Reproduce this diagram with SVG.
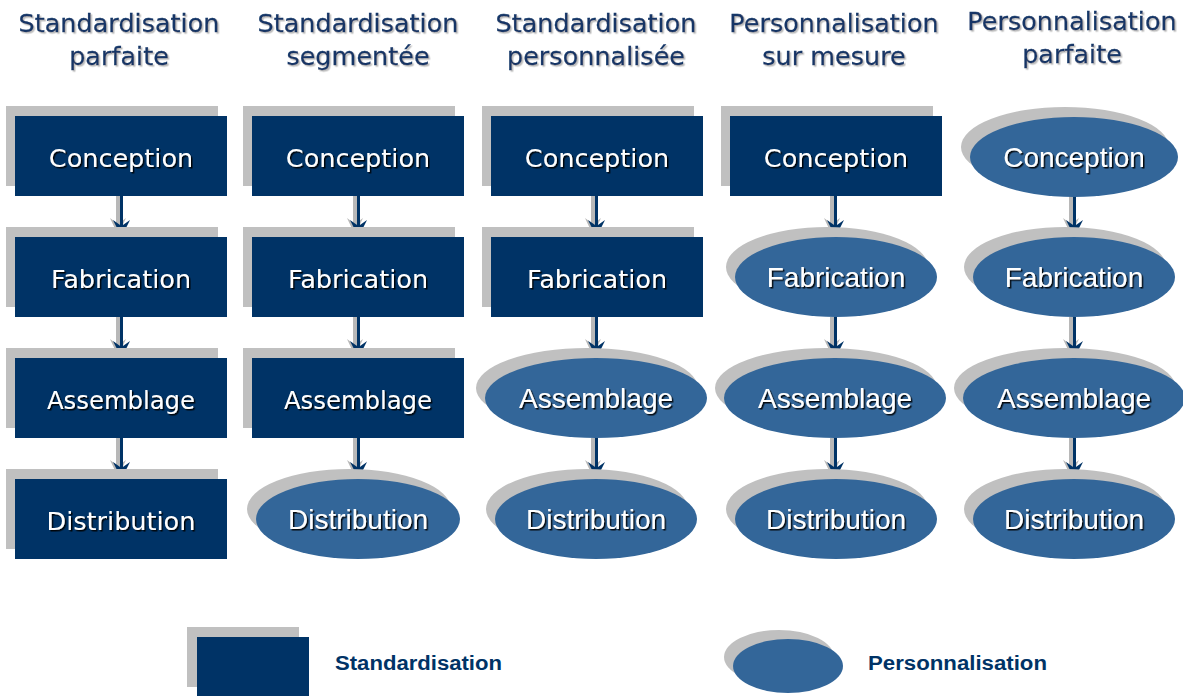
<svg xmlns="http://www.w3.org/2000/svg" xmlns:xlink="http://www.w3.org/1999/xlink" width="1183" height="696" viewBox="0 0 1183 696">
<defs>
<filter id="ts" x="-10%" y="-30%" width="120%" height="160%">
<feDropShadow dx="1.5" dy="1.5" stdDeviation="0.5" flood-color="#000" flood-opacity="0.9"/>
</filter>
<filter id="tts" x="-10%" y="-30%" width="120%" height="160%">
<feDropShadow dx="1.5" dy="1.5" stdDeviation="0.6" flood-color="#b4b4b4" flood-opacity="0.9"/>
</filter>
<g id="arr">
<line x1="-3" y1="0" x2="-3" y2="36" stroke="#b8b8b8" stroke-width="4"/>
<path d="M-3,39 L-11,22 L-3,28 L5,22 Z" fill="#b8b8b8"/>
<line x1="0.5" y1="0" x2="0.5" y2="32" stroke="#003366" stroke-width="3"/>
<path d="M0.5,41 L-8,24 L0.5,30 L9,24 Z" fill="#003366"/>
</g>
</defs>
<style>
.sh{fill:#c0c0c0}
.rb{fill:#003366}
.el{fill:#336699}
.rt{font-family:"DejaVu Sans",sans-serif;font-size:25.5px;fill:#fff;text-anchor:middle;filter:url(#ts)}
.et{font-family:"Liberation Sans",Arial,sans-serif;font-size:28px;fill:#fff;text-anchor:middle;filter:url(#ts)}
.tt{font-family:"DejaVu Sans",sans-serif;font-size:25.5px;fill:#133566;stroke:#133566;stroke-width:0.3;text-anchor:middle;filter:url(#tts)}
.lg{font-family:"Liberation Sans",Arial,sans-serif;font-size:20px;font-weight:bold;fill:#003366}
</style>
<rect width="1183" height="696" fill="#fff"/>

<g id="titles">
<text class="tt" x="119" y="32">Standardisation</text>
<text class="tt" x="119" y="65">parfaite</text>
<text class="tt" x="358" y="32">Standardisation</text>
<text class="tt" x="358" y="65">segmentée</text>
<text class="tt" x="596" y="32">Standardisation</text>
<text class="tt" x="596" y="65">personnalisée</text>
<text class="tt" x="834" y="32">Personnalisation</text>
<text class="tt" x="834" y="65">sur mesure</text>
<text class="tt" x="1072" y="30">Personnalisation</text>
<text class="tt" x="1072" y="63">parfaite</text>
</g>

<g id="connectors">
<use xlink:href="#arr" x="121" y="196"/>
<use xlink:href="#arr" x="121" y="317"/>
<use xlink:href="#arr" x="121" y="438"/>
<use xlink:href="#arr" x="358" y="196"/>
<use xlink:href="#arr" x="358" y="317"/>
<use xlink:href="#arr" x="358" y="438"/>
<use xlink:href="#arr" x="596" y="196"/>
<use xlink:href="#arr" x="596" y="317"/>
<use xlink:href="#arr" x="596" y="438"/>
<use xlink:href="#arr" x="835" y="196"/>
<use xlink:href="#arr" x="835" y="317"/>
<use xlink:href="#arr" x="835" y="438"/>
<use xlink:href="#arr" x="1074" y="196"/>
<use xlink:href="#arr" x="1074" y="317"/>
<use xlink:href="#arr" x="1074" y="438"/>
</g>

<!-- Column 1 -->
<g id="c1-conception"><rect class="sh" x="6" y="106" width="212" height="80"/><rect class="rb" x="15" y="116" width="212" height="80"/><text class="rt" x="121" y="167">Conception</text></g>
<g id="c1-fabrication"><rect class="sh" x="6" y="227" width="212" height="80"/><rect class="rb" x="15" y="237" width="212" height="80"/><text class="rt" x="121" y="288">Fabrication</text></g>
<g id="c1-assemblage"><rect class="sh" x="6" y="348" width="212" height="80"/><rect class="rb" x="15" y="358" width="212" height="80"/><text class="rt" x="121" y="409" textLength="148" lengthAdjust="spacingAndGlyphs">Assemblage</text></g>
<g id="c1-distribution"><rect class="sh" x="6" y="469" width="212" height="80"/><rect class="rb" x="15" y="479" width="212" height="80"/><text class="rt" x="121" y="530">Distribution</text></g>

<!-- Column 2 -->
<g id="c2-conception"><rect class="sh" x="243" y="106" width="212" height="80"/><rect class="rb" x="252" y="116" width="212" height="80"/><text class="rt" x="358" y="167">Conception</text></g>
<g id="c2-fabrication"><rect class="sh" x="243" y="227" width="212" height="80"/><rect class="rb" x="252" y="237" width="212" height="80"/><text class="rt" x="358" y="288">Fabrication</text></g>
<g id="c2-assemblage"><rect class="sh" x="243" y="348" width="212" height="80"/><rect class="rb" x="252" y="358" width="212" height="80"/><text class="rt" x="358" y="409" textLength="148" lengthAdjust="spacingAndGlyphs">Assemblage</text></g>
<g id="c2-distribution"><ellipse class="sh" cx="349" cy="509" rx="102" ry="40"/><ellipse class="el" cx="358" cy="519" rx="102" ry="40"/><text class="et" x="358" y="529">Distribution</text></g>

<!-- Column 3 -->
<g id="c3-conception"><rect class="sh" x="482" y="106" width="212" height="80"/><rect class="rb" x="491" y="116" width="212" height="80"/><text class="rt" x="597" y="167">Conception</text></g>
<g id="c3-fabrication"><rect class="sh" x="482" y="227" width="212" height="80"/><rect class="rb" x="491" y="237" width="212" height="80"/><text class="rt" x="597" y="288">Fabrication</text></g>
<g id="c3-assemblage"><ellipse class="sh" cx="587" cy="388" rx="111" ry="40"/><ellipse class="el" cx="596" cy="398" rx="111" ry="40"/><text class="et" x="596" y="408">Assemblage</text></g>
<g id="c3-distribution"><ellipse class="sh" cx="587" cy="509" rx="101" ry="40"/><ellipse class="el" cx="596" cy="519" rx="101" ry="40"/><text class="et" x="596" y="529">Distribution</text></g>

<!-- Column 4 -->
<g id="c4-conception"><rect class="sh" x="721" y="106" width="212" height="80"/><rect class="rb" x="730" y="116" width="212" height="80"/><text class="rt" x="836" y="167">Conception</text></g>
<g id="c4-fabrication"><ellipse class="sh" cx="827" cy="267" rx="101" ry="40"/><ellipse class="el" cx="836" cy="277" rx="101" ry="40"/><text class="et" x="836" y="287">Fabrication</text></g>
<g id="c4-assemblage"><ellipse class="sh" cx="826" cy="388" rx="111" ry="40"/><ellipse class="el" cx="835" cy="398" rx="111" ry="40"/><text class="et" x="835" y="408">Assemblage</text></g>
<g id="c4-distribution"><ellipse class="sh" cx="827" cy="509" rx="101" ry="40"/><ellipse class="el" cx="836" cy="519" rx="101" ry="40"/><text class="et" x="836" y="529">Distribution</text></g>

<!-- Column 5 -->
<g id="c5-conception"><ellipse class="sh" cx="1065" cy="147" rx="104" ry="40"/><ellipse class="el" cx="1074" cy="157" rx="104" ry="40"/><text class="et" x="1074" y="167">Conception</text></g>
<g id="c5-fabrication"><ellipse class="sh" cx="1065" cy="267" rx="101" ry="40"/><ellipse class="el" cx="1074" cy="277" rx="101" ry="40"/><text class="et" x="1074" y="287">Fabrication</text></g>
<g id="c5-assemblage"><ellipse class="sh" cx="1065" cy="388" rx="111" ry="40"/><ellipse class="el" cx="1074" cy="398" rx="111" ry="40"/><text class="et" x="1074" y="408">Assemblage</text></g>
<g id="c5-distribution"><ellipse class="sh" cx="1065" cy="509" rx="101" ry="40"/><ellipse class="el" cx="1074" cy="519" rx="101" ry="40"/><text class="et" x="1074" y="529">Distribution</text></g>

<!-- Legend -->
<g id="legend-standardisation">
<rect class="sh" x="187" y="627" width="112" height="60"/>
<rect class="rb" x="197" y="637" width="112" height="60"/>
<text class="lg" x="335" y="670" textLength="167" lengthAdjust="spacingAndGlyphs">Standardisation</text>
</g>
<g id="legend-personnalisation">
<ellipse class="sh" cx="779" cy="657" rx="55" ry="27"/>
<ellipse class="el" cx="788" cy="666" rx="55" ry="27"/>
<text class="lg" x="868" y="670" textLength="179" lengthAdjust="spacingAndGlyphs">Personnalisation</text>
</g>
</svg>
